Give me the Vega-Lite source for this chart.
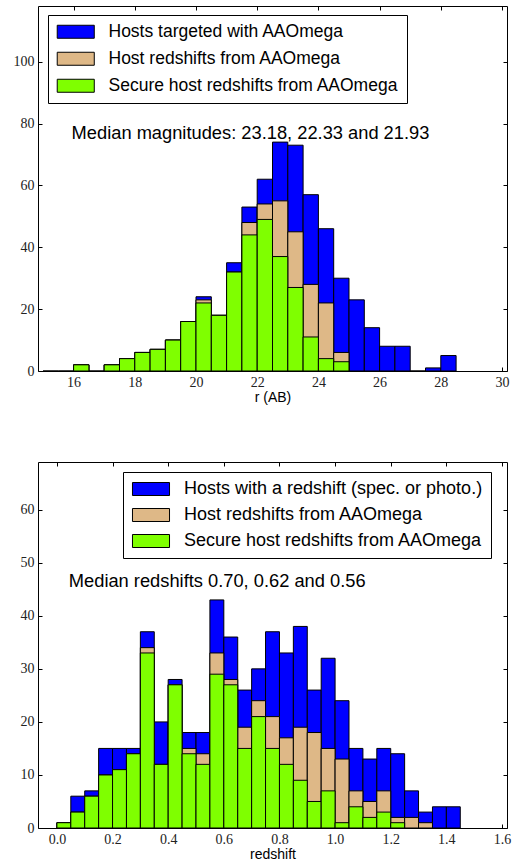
{
"$schema": "https://vega.github.io/schema/vega-lite/v6.json",
"background": "white",
"padding": {"left": 12, "top": 5, "right": 5, "bottom": 0},
"spacing": 56,
"datasets": {
"mag": [
{"lo":15.0,"hi":15.5,"n":0,"s":"Hosts targeted with AAOmega"},
{"lo":15.5,"hi":16.0,"n":0,"s":"Hosts targeted with AAOmega"},
{"lo":16.0,"hi":16.5,"n":2,"s":"Hosts targeted with AAOmega"},
{"lo":16.5,"hi":17.0,"n":0,"s":"Hosts targeted with AAOmega"},
{"lo":17.0,"hi":17.5,"n":2,"s":"Hosts targeted with AAOmega"},
{"lo":17.5,"hi":18.0,"n":4,"s":"Hosts targeted with AAOmega"},
{"lo":18.0,"hi":18.5,"n":6,"s":"Hosts targeted with AAOmega"},
{"lo":18.5,"hi":19.0,"n":7,"s":"Hosts targeted with AAOmega"},
{"lo":19.0,"hi":19.5,"n":10,"s":"Hosts targeted with AAOmega"},
{"lo":19.5,"hi":20.0,"n":16,"s":"Hosts targeted with AAOmega"},
{"lo":20.0,"hi":20.5,"n":24,"s":"Hosts targeted with AAOmega"},
{"lo":20.5,"hi":21.0,"n":18,"s":"Hosts targeted with AAOmega"},
{"lo":21.0,"hi":21.5,"n":35,"s":"Hosts targeted with AAOmega"},
{"lo":21.5,"hi":22.0,"n":53,"s":"Hosts targeted with AAOmega"},
{"lo":22.0,"hi":22.5,"n":62,"s":"Hosts targeted with AAOmega"},
{"lo":22.5,"hi":23.0,"n":74,"s":"Hosts targeted with AAOmega"},
{"lo":23.0,"hi":23.5,"n":73,"s":"Hosts targeted with AAOmega"},
{"lo":23.5,"hi":24.0,"n":57,"s":"Hosts targeted with AAOmega"},
{"lo":24.0,"hi":24.5,"n":46,"s":"Hosts targeted with AAOmega"},
{"lo":24.5,"hi":25.0,"n":30,"s":"Hosts targeted with AAOmega"},
{"lo":25.0,"hi":25.5,"n":23,"s":"Hosts targeted with AAOmega"},
{"lo":25.5,"hi":26.0,"n":14,"s":"Hosts targeted with AAOmega"},
{"lo":26.0,"hi":26.5,"n":8,"s":"Hosts targeted with AAOmega"},
{"lo":26.5,"hi":27.0,"n":8,"s":"Hosts targeted with AAOmega"},
{"lo":27.0,"hi":27.5,"n":0,"s":"Hosts targeted with AAOmega"},
{"lo":27.5,"hi":28.0,"n":1,"s":"Hosts targeted with AAOmega"},
{"lo":28.0,"hi":28.5,"n":5,"s":"Hosts targeted with AAOmega"},
{"lo":16.0,"hi":16.5,"n":2,"s":"Host redshifts from AAOmega"},
{"lo":17.0,"hi":17.5,"n":2,"s":"Host redshifts from AAOmega"},
{"lo":17.5,"hi":18.0,"n":4,"s":"Host redshifts from AAOmega"},
{"lo":18.0,"hi":18.5,"n":6,"s":"Host redshifts from AAOmega"},
{"lo":18.5,"hi":19.0,"n":7,"s":"Host redshifts from AAOmega"},
{"lo":19.0,"hi":19.5,"n":10,"s":"Host redshifts from AAOmega"},
{"lo":19.5,"hi":20.0,"n":16,"s":"Host redshifts from AAOmega"},
{"lo":20.0,"hi":20.5,"n":23,"s":"Host redshifts from AAOmega"},
{"lo":20.5,"hi":21.0,"n":18,"s":"Host redshifts from AAOmega"},
{"lo":21.0,"hi":21.5,"n":32,"s":"Host redshifts from AAOmega"},
{"lo":21.5,"hi":22.0,"n":48,"s":"Host redshifts from AAOmega"},
{"lo":22.0,"hi":22.5,"n":54,"s":"Host redshifts from AAOmega"},
{"lo":22.5,"hi":23.0,"n":55,"s":"Host redshifts from AAOmega"},
{"lo":23.0,"hi":23.5,"n":45,"s":"Host redshifts from AAOmega"},
{"lo":23.5,"hi":24.0,"n":28,"s":"Host redshifts from AAOmega"},
{"lo":24.0,"hi":24.5,"n":22,"s":"Host redshifts from AAOmega"},
{"lo":24.5,"hi":25.0,"n":6,"s":"Host redshifts from AAOmega"},
{"lo":16.0,"hi":16.5,"n":2,"s":"Secure host redshifts from AAOmega"},
{"lo":17.0,"hi":17.5,"n":2,"s":"Secure host redshifts from AAOmega"},
{"lo":17.5,"hi":18.0,"n":4,"s":"Secure host redshifts from AAOmega"},
{"lo":18.0,"hi":18.5,"n":6,"s":"Secure host redshifts from AAOmega"},
{"lo":18.5,"hi":19.0,"n":7,"s":"Secure host redshifts from AAOmega"},
{"lo":19.0,"hi":19.5,"n":10,"s":"Secure host redshifts from AAOmega"},
{"lo":19.5,"hi":20.0,"n":16,"s":"Secure host redshifts from AAOmega"},
{"lo":20.0,"hi":20.5,"n":22,"s":"Secure host redshifts from AAOmega"},
{"lo":20.5,"hi":21.0,"n":18,"s":"Secure host redshifts from AAOmega"},
{"lo":21.0,"hi":21.5,"n":32,"s":"Secure host redshifts from AAOmega"},
{"lo":21.5,"hi":22.0,"n":44,"s":"Secure host redshifts from AAOmega"},
{"lo":22.0,"hi":22.5,"n":49,"s":"Secure host redshifts from AAOmega"},
{"lo":22.5,"hi":23.0,"n":37,"s":"Secure host redshifts from AAOmega"},
{"lo":23.0,"hi":23.5,"n":27,"s":"Secure host redshifts from AAOmega"},
{"lo":23.5,"hi":24.0,"n":11,"s":"Secure host redshifts from AAOmega"},
{"lo":24.0,"hi":24.5,"n":4,"s":"Secure host redshifts from AAOmega"},
{"lo":24.5,"hi":25.0,"n":3,"s":"Secure host redshifts from AAOmega"}
],
"z": [
{"lo":0.00,"hi":0.05,"n":1,"s":"Hosts with a redshift (spec. or photo.)"},
{"lo":0.05,"hi":0.10,"n":6,"s":"Hosts with a redshift (spec. or photo.)"},
{"lo":0.10,"hi":0.15,"n":7,"s":"Hosts with a redshift (spec. or photo.)"},
{"lo":0.15,"hi":0.20,"n":15,"s":"Hosts with a redshift (spec. or photo.)"},
{"lo":0.20,"hi":0.25,"n":15,"s":"Hosts with a redshift (spec. or photo.)"},
{"lo":0.25,"hi":0.30,"n":15,"s":"Hosts with a redshift (spec. or photo.)"},
{"lo":0.30,"hi":0.35,"n":37,"s":"Hosts with a redshift (spec. or photo.)"},
{"lo":0.35,"hi":0.40,"n":20,"s":"Hosts with a redshift (spec. or photo.)"},
{"lo":0.40,"hi":0.45,"n":28,"s":"Hosts with a redshift (spec. or photo.)"},
{"lo":0.45,"hi":0.50,"n":18,"s":"Hosts with a redshift (spec. or photo.)"},
{"lo":0.50,"hi":0.55,"n":18,"s":"Hosts with a redshift (spec. or photo.)"},
{"lo":0.55,"hi":0.60,"n":43,"s":"Hosts with a redshift (spec. or photo.)"},
{"lo":0.60,"hi":0.65,"n":36,"s":"Hosts with a redshift (spec. or photo.)"},
{"lo":0.65,"hi":0.70,"n":26,"s":"Hosts with a redshift (spec. or photo.)"},
{"lo":0.70,"hi":0.75,"n":30,"s":"Hosts with a redshift (spec. or photo.)"},
{"lo":0.75,"hi":0.80,"n":37,"s":"Hosts with a redshift (spec. or photo.)"},
{"lo":0.80,"hi":0.85,"n":33,"s":"Hosts with a redshift (spec. or photo.)"},
{"lo":0.85,"hi":0.90,"n":38,"s":"Hosts with a redshift (spec. or photo.)"},
{"lo":0.90,"hi":0.95,"n":26,"s":"Hosts with a redshift (spec. or photo.)"},
{"lo":0.95,"hi":1.00,"n":32,"s":"Hosts with a redshift (spec. or photo.)"},
{"lo":1.00,"hi":1.05,"n":24,"s":"Hosts with a redshift (spec. or photo.)"},
{"lo":1.05,"hi":1.10,"n":15,"s":"Hosts with a redshift (spec. or photo.)"},
{"lo":1.10,"hi":1.15,"n":13,"s":"Hosts with a redshift (spec. or photo.)"},
{"lo":1.15,"hi":1.20,"n":15,"s":"Hosts with a redshift (spec. or photo.)"},
{"lo":1.20,"hi":1.25,"n":14,"s":"Hosts with a redshift (spec. or photo.)"},
{"lo":1.25,"hi":1.30,"n":7,"s":"Hosts with a redshift (spec. or photo.)"},
{"lo":1.30,"hi":1.35,"n":3,"s":"Hosts with a redshift (spec. or photo.)"},
{"lo":1.35,"hi":1.40,"n":4,"s":"Hosts with a redshift (spec. or photo.)"},
{"lo":1.40,"hi":1.45,"n":4,"s":"Hosts with a redshift (spec. or photo.)"},
{"lo":0.00,"hi":0.05,"n":1,"s":"Host redshifts from AAOmega"},
{"lo":0.05,"hi":0.10,"n":3,"s":"Host redshifts from AAOmega"},
{"lo":0.10,"hi":0.15,"n":6,"s":"Host redshifts from AAOmega"},
{"lo":0.15,"hi":0.20,"n":10,"s":"Host redshifts from AAOmega"},
{"lo":0.20,"hi":0.25,"n":11,"s":"Host redshifts from AAOmega"},
{"lo":0.25,"hi":0.30,"n":14,"s":"Host redshifts from AAOmega"},
{"lo":0.30,"hi":0.35,"n":34,"s":"Host redshifts from AAOmega"},
{"lo":0.35,"hi":0.40,"n":12,"s":"Host redshifts from AAOmega"},
{"lo":0.40,"hi":0.45,"n":27,"s":"Host redshifts from AAOmega"},
{"lo":0.45,"hi":0.50,"n":15,"s":"Host redshifts from AAOmega"},
{"lo":0.50,"hi":0.55,"n":14,"s":"Host redshifts from AAOmega"},
{"lo":0.55,"hi":0.60,"n":33,"s":"Host redshifts from AAOmega"},
{"lo":0.60,"hi":0.65,"n":28,"s":"Host redshifts from AAOmega"},
{"lo":0.65,"hi":0.70,"n":19,"s":"Host redshifts from AAOmega"},
{"lo":0.70,"hi":0.75,"n":24,"s":"Host redshifts from AAOmega"},
{"lo":0.75,"hi":0.80,"n":21,"s":"Host redshifts from AAOmega"},
{"lo":0.80,"hi":0.85,"n":17,"s":"Host redshifts from AAOmega"},
{"lo":0.85,"hi":0.90,"n":19,"s":"Host redshifts from AAOmega"},
{"lo":0.90,"hi":0.95,"n":18,"s":"Host redshifts from AAOmega"},
{"lo":0.95,"hi":1.00,"n":15,"s":"Host redshifts from AAOmega"},
{"lo":1.00,"hi":1.05,"n":13,"s":"Host redshifts from AAOmega"},
{"lo":1.05,"hi":1.10,"n":7,"s":"Host redshifts from AAOmega"},
{"lo":1.10,"hi":1.15,"n":5,"s":"Host redshifts from AAOmega"},
{"lo":1.15,"hi":1.20,"n":7,"s":"Host redshifts from AAOmega"},
{"lo":1.20,"hi":1.25,"n":2,"s":"Host redshifts from AAOmega"},
{"lo":1.25,"hi":1.30,"n":2,"s":"Host redshifts from AAOmega"},
{"lo":1.30,"hi":1.35,"n":1,"s":"Host redshifts from AAOmega"},
{"lo":0.00,"hi":0.05,"n":1,"s":"Secure host redshifts from AAOmega"},
{"lo":0.05,"hi":0.10,"n":3,"s":"Secure host redshifts from AAOmega"},
{"lo":0.10,"hi":0.15,"n":6,"s":"Secure host redshifts from AAOmega"},
{"lo":0.15,"hi":0.20,"n":10,"s":"Secure host redshifts from AAOmega"},
{"lo":0.20,"hi":0.25,"n":11,"s":"Secure host redshifts from AAOmega"},
{"lo":0.25,"hi":0.30,"n":14,"s":"Secure host redshifts from AAOmega"},
{"lo":0.30,"hi":0.35,"n":33,"s":"Secure host redshifts from AAOmega"},
{"lo":0.35,"hi":0.40,"n":12,"s":"Secure host redshifts from AAOmega"},
{"lo":0.40,"hi":0.45,"n":27,"s":"Secure host redshifts from AAOmega"},
{"lo":0.45,"hi":0.50,"n":14,"s":"Secure host redshifts from AAOmega"},
{"lo":0.50,"hi":0.55,"n":12,"s":"Secure host redshifts from AAOmega"},
{"lo":0.55,"hi":0.60,"n":29,"s":"Secure host redshifts from AAOmega"},
{"lo":0.60,"hi":0.65,"n":27,"s":"Secure host redshifts from AAOmega"},
{"lo":0.65,"hi":0.70,"n":15,"s":"Secure host redshifts from AAOmega"},
{"lo":0.70,"hi":0.75,"n":21,"s":"Secure host redshifts from AAOmega"},
{"lo":0.75,"hi":0.80,"n":15,"s":"Secure host redshifts from AAOmega"},
{"lo":0.80,"hi":0.85,"n":12,"s":"Secure host redshifts from AAOmega"},
{"lo":0.85,"hi":0.90,"n":9,"s":"Secure host redshifts from AAOmega"},
{"lo":0.90,"hi":0.95,"n":5,"s":"Secure host redshifts from AAOmega"},
{"lo":0.95,"hi":1.00,"n":7,"s":"Secure host redshifts from AAOmega"},
{"lo":1.00,"hi":1.05,"n":1,"s":"Secure host redshifts from AAOmega"},
{"lo":1.05,"hi":1.10,"n":4,"s":"Secure host redshifts from AAOmega"},
{"lo":1.10,"hi":1.15,"n":2,"s":"Secure host redshifts from AAOmega"},
{"lo":1.15,"hi":1.20,"n":3,"s":"Secure host redshifts from AAOmega"},
{"lo":1.20,"hi":1.25,"n":1,"s":"Secure host redshifts from AAOmega"}
]
},
"vconcat": [
{
"width": 469, "height": 365,
"layer": [
{"data": {"name": "mag"},
 "mark": {"type": "bar", "stroke": "black", "strokeWidth": 1, "opacity": 1, "orient": "vertical"},
 "encoding": {
  "x": {"field": "lo", "type": "quantitative", "scale": {"domain": [15, 30], "nice": false, "zero": false},
        "axis": {"orient": "bottom", "values": [16,18,20,22,24,26,28,30], "title": "r (AB)"}},
  "x2": {"field": "hi"},
  "y": {"field": "n", "type": "quantitative", "stack": null, "scale": {"domain": [0, 118], "nice": false},
        "axis": {"orient": "left", "values": [0,20,40,60,80,100], "title": null}},
  "y2": {"datum": 0},
  "color": {"field": "s", "type": "nominal",
            "scale": {"domain": ["Hosts targeted with AAOmega", "Host redshifts from AAOmega", "Secure host redshifts from AAOmega"], "range": ["#0000ff", "#deb887", "#7fff00"]},
            "legend": {"orient": "none", "legendX": 10, "legendY": 9, "title": null}}
 }},
{"data": {"values": [{"x": 16, "y": 75, "label": "Median magnitudes: 23.18, 22.33 and 21.93"}]},
 "mark": {"type": "text", "align": "left", "baseline": "alphabetic", "font": "Liberation Sans", "fontSize": 18.3, "color": "black", "dx": -2},
 "encoding": {
  "x": {"field": "x", "type": "quantitative", "scale": {"domain": [15, 30], "nice": false, "zero": false},
        "axis": {"orient": "top", "values": [16,18,20,22,24,26,28,30], "labels": false, "title": null}},
  "y": {"field": "y", "type": "quantitative", "scale": {"domain": [0, 118], "nice": false},
        "axis": {"orient": "right", "values": [0,20,40,60,80,100], "labels": false, "title": null}},
  "text": {"field": "label"}
 }}
],
"resolve": {"axis": {"x": "independent", "y": "independent"}}
},
{
"width": 469, "height": 366,
"layer": [
{"data": {"name": "z"},
 "mark": {"type": "bar", "stroke": "black", "strokeWidth": 1, "opacity": 1, "orient": "vertical"},
 "encoding": {
  "x": {"field": "lo", "type": "quantitative", "scale": {"domain": [-0.05, 1.6], "nice": false, "zero": false},
        "axis": {"orient": "bottom", "values": [0,0.2,0.4,0.6,0.8,1.0,1.2,1.4,1.6], "format": ".1f", "title": "redshift"}},
  "x2": {"field": "hi"},
  "y": {"field": "n", "type": "quantitative", "stack": null, "scale": {"domain": [0, 69], "nice": false},
        "axis": {"orient": "left", "values": [0,10,20,30,40,50,60], "title": null}},
  "y2": {"datum": 0},
  "color": {"field": "s", "type": "nominal",
            "scale": {"domain": ["Hosts with a redshift (spec. or photo.)", "Host redshifts from AAOmega", "Secure host redshifts from AAOmega"], "range": ["#0000ff", "#deb887", "#7fff00"]},
            "legend": {"orient": "none", "legendX": 85, "legendY": 10, "title": null, "labelFontSize": 18}}
 }},
{"data": {"values": [{"x": 0.05, "y": 45.5, "label": "Median redshifts 0.70, 0.62 and 0.56"}]},
 "mark": {"type": "text", "align": "left", "baseline": "alphabetic", "font": "Liberation Sans", "fontSize": 18.3, "color": "black", "dx": -2},
 "encoding": {
  "x": {"field": "x", "type": "quantitative", "scale": {"domain": [-0.05, 1.6], "nice": false, "zero": false},
        "axis": {"orient": "top", "values": [0,0.2,0.4,0.6,0.8,1.0,1.2,1.4,1.6], "labels": false, "title": null}},
  "y": {"field": "y", "type": "quantitative", "scale": {"domain": [0, 69], "nice": false},
        "axis": {"orient": "right", "values": [0,10,20,30,40,50,60], "labels": false, "title": null}},
  "text": {"field": "label"}
 }}
],
"resolve": {"axis": {"x": "independent", "y": "independent"}}
}
],
"resolve": {"scale": {"x": "independent", "y": "independent", "color": "independent"}, "legend": {"color": "independent"}},
"config": {
 "view": {"stroke": "black", "strokeWidth": 1},
 "axis": {"domain": false, "grid": false, "ticks": true, "tickSize": -4, "tickColor": "black", "tickWidth": 1,
          "labelFont": "Liberation Serif", "labelFontSize": 14, "labelColor": "#222222", "labelPadding": 8,
          "titleFont": "Liberation Sans", "titleFontSize": 14, "titleFontWeight": "normal", "titleColor": "black", "titlePadding": 1},
 "legend": {"strokeColor": "black", "fillColor": "white", "padding": 8, "cornerRadius": 0,
            "symbolType": "M-2.85,-1H2.85V1H-2.85Z", "symbolSize": 169, "symbolStrokeColor": "black", "symbolStrokeWidth": 1,
            "symbolOffset": 11, "labelOffset": 24, "labelFont": "Liberation Sans", "labelFontSize": 17.5, "labelColor": "black",
            "rowPadding": 8, "labelLimit": 400}
}
}
